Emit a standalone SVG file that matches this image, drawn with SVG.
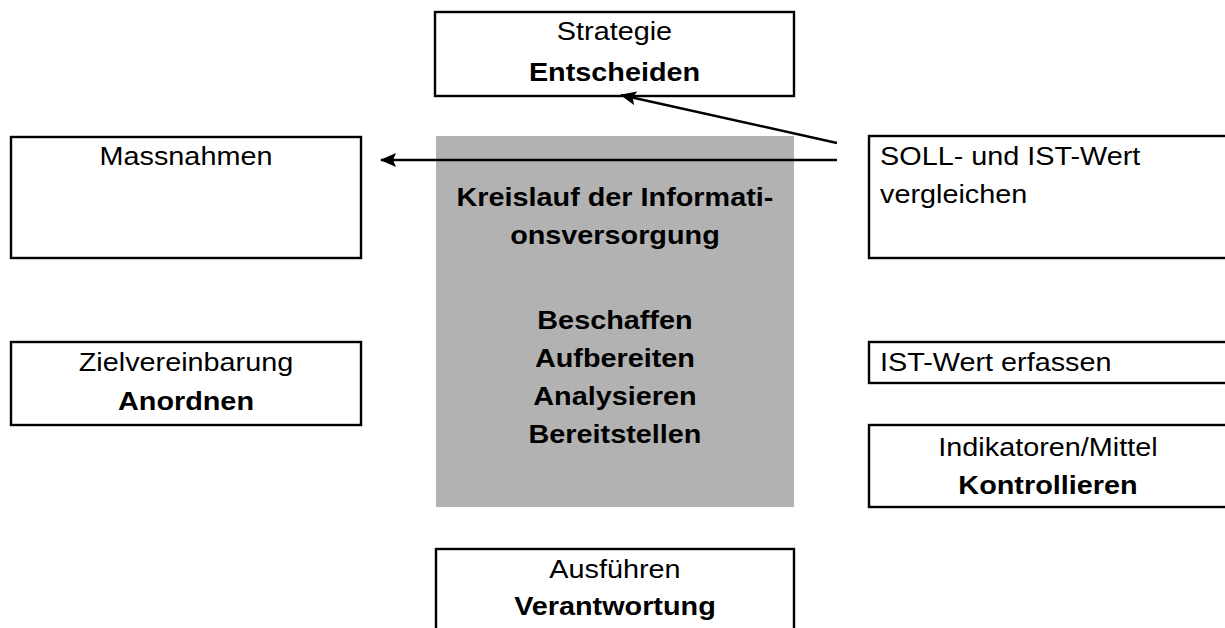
<svg xmlns="http://www.w3.org/2000/svg" width="1225" height="628" viewBox="0 0 1225 628">
<style>
.box{fill:#fff;stroke:#000;stroke-width:2.4}
.gray{fill:#b2b2b2;stroke:none}
.t{font-family:"Liberation Sans",Arial,sans-serif;font-size:25.5px;fill:#000}
.c{text-anchor:middle}
.b{font-weight:bold}
.conn{stroke:#000;stroke-width:2.5;fill:none}
</style>
<defs>
<marker id="ah" markerWidth="16" markerHeight="14" refX="15" refY="7" orient="auto" markerUnits="userSpaceOnUse">
<path d="M0,0 L16,7 L0,14 L3,7 Z" fill="#000"/>
</marker>
</defs>
<rect width="1225" height="628" fill="#fff"/>
<g id="kreislauf">
<rect class="gray" x="436" y="136" width="358" height="371"/>
<g transform="scale(1.13,1)">
<text class="t c b" x="544.2" y="206">Kreislauf der Informati-</text>
<text class="t c b" x="544.2" y="244">onsversorgung</text>
<text class="t c b" x="544.2" y="329">Beschaffen</text>
<text class="t c b" x="544.2" y="367">Aufbereiten</text>
<text class="t c b" x="544.2" y="405">Analysieren</text>
<text class="t c b" x="544.2" y="443">Bereitstellen</text>
</g>
</g>
<g id="strategie">
<rect class="box" x="435" y="12" width="359" height="84"/>
<g transform="scale(1.13,1)">
<text class="t c" x="543.8" y="40.5">Strategie</text>
<text class="t c b" x="543.8" y="81">Entscheiden</text>
</g>
</g>
<g id="massnahmen">
<rect class="box" x="11" y="137" width="350" height="121"/>
<g transform="scale(1.13,1)">
<text class="t c" x="164.6" y="165">Massnahmen</text>
</g>
</g>
<g id="zielvereinbarung">
<rect class="box" x="11" y="342" width="350" height="83"/>
<g transform="scale(1.13,1)">
<text class="t c" x="164.6" y="371">Zielvereinbarung</text>
<text class="t c b" x="164.6" y="410">Anordnen</text>
</g>
</g>
<g id="vergleichen">
<rect class="box" x="869" y="136" width="362" height="122"/>
<g transform="scale(1.13,1)">
<text class="t" x="778.8" y="165">SOLL- und IST-Wert</text>
<text class="t" x="778.8" y="203">vergleichen</text>
</g>
</g>
<g id="erfassen">
<rect class="box" x="869" y="342" width="362" height="41"/>
<g transform="scale(1.13,1)">
<text class="t" x="778.8" y="371">IST-Wert erfassen</text>
</g>
</g>
<g id="kontrollieren">
<rect class="box" x="869" y="425" width="362" height="82"/>
<g transform="scale(1.13,1)">
<text class="t c" x="927.4" y="456">Indikatoren/Mittel</text>
<text class="t c b" x="927.4" y="494">Kontrollieren</text>
</g>
</g>
<g id="ausfuehren">
<rect class="box" x="436" y="549" width="358" height="90"/>
<g transform="scale(1.13,1)">
<text class="t c" x="544.2" y="578">Ausführen</text>
<text class="t c b" x="544.2" y="615">Verantwortung</text>
</g>
</g>
<g id="connectors">
<line class="conn" x1="837" y1="143" x2="621" y2="95" marker-end="url(#ah)"/>
<line class="conn" x1="837" y1="160" x2="381" y2="160" marker-end="url(#ah)"/>
</g>
</svg>
